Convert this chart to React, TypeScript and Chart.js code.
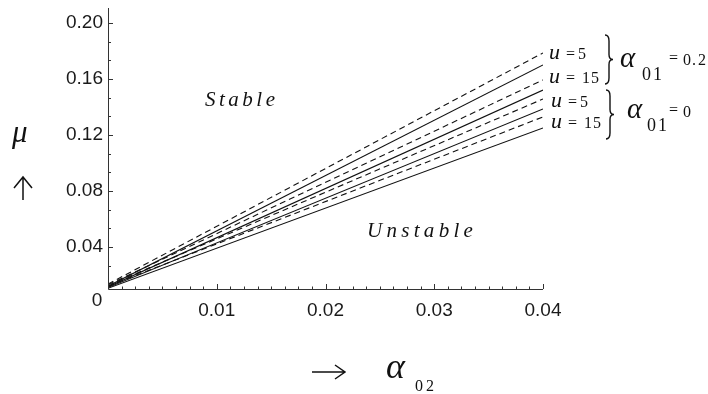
import React, { useEffect, useRef } from 'react';
import { Chart, registerables } from 'chart.js';
Chart.register(...registerables);

// alpha_02 values (x) at which the curves were read
const alpha02 = [0, 0.04];
// mu values (y) for each curve, top to bottom at alpha_02 = 0.04
const curve1Dashed = [0.0135, 0.1786];
const curve1Solid = [0.012, 0.17];
const curve2Dashed = [0.013, 0.1593];
const curve2Solid = [0.0115, 0.1521];
const curve3Dashed = [0.0125, 0.1457];
const curve3Solid = [0.011, 0.1386];
const curve4Dashed = [0.012, 0.1329];
const curve4Solid = [0.0105, 0.125];

const xTickLabels = ['0.01', '0.02', '0.03', '0.04'];
const yTickLabels = ['0.04', '0.08', '0.12', '0.16', '0.20'];

const curves = [
  { vals: curve1Dashed, dashed: true },
  { vals: curve1Solid, dashed: false },
  { vals: curve2Dashed, dashed: true },
  { vals: curve2Solid, dashed: false },
  { vals: curve3Dashed, dashed: true },
  { vals: curve3Solid, dashed: false },
  { vals: curve4Dashed, dashed: true },
  { vals: curve4Solid, dashed: false },
];

const SERIF = '"Liberation Serif", "Times New Roman", serif';
const SANS = '"Liberation Sans", Arial, sans-serif';

function brace(ctx: CanvasRenderingContext2D, x: number, top: number, bottom: number, w: number) {
  const h = bottom - top;
  const mid = (top + bottom) / 2;
  const xm = x + w * 0.5;
  ctx.beginPath();
  ctx.moveTo(x, top);
  ctx.quadraticCurveTo(xm, top, xm, top + h * 0.12);
  ctx.lineTo(xm, mid - h * 0.1);
  ctx.quadraticCurveTo(xm, mid, x + w, mid);
  ctx.quadraticCurveTo(xm, mid, xm, mid + h * 0.1);
  ctx.lineTo(xm, bottom - h * 0.12);
  ctx.quadraticCurveTo(xm, bottom, x, bottom);
  ctx.stroke();
}

const decorPlugin = {
  id: 'decor',
  afterDraw(chart: any) {
    const ctx: CanvasRenderingContext2D = chart.ctx;
    const xs = chart.scales.x;
    const ys = chart.scales.y;
    const ca = chart.chartArea;
    ctx.save();
    ctx.strokeStyle = '#333';
    ctx.fillStyle = '#1a1a1a';
    ctx.lineWidth = 1;
    // axes
    ctx.beginPath();
    ctx.moveTo(ca.left + 0.5, ca.top);
    ctx.lineTo(ca.left + 0.5, ca.bottom + 0.5);
    ctx.lineTo(ca.right, ca.bottom + 0.5);
    ctx.stroke();
    // y ticks
    const yStep = 0.04;
    for (let v = yStep / 3; v <= ys.max + 1e-9; v += yStep / 3) {
      if (v < ys.min) continue;
      const major = Math.abs(v / yStep - Math.round(v / yStep)) < 1e-6;
      const py = Math.round(ys.getPixelForValue(v)) + 0.5;
      ctx.beginPath();
      ctx.moveTo(ca.left, py);
      ctx.lineTo(ca.left + (major ? 5 : 3), py);
      ctx.stroke();
    }
    // x ticks
    const xStep = 0.01;
    for (let i = 1; i <= 32; i++) {
      const v = (i * xStep) / 8;
      const major = i % 8 === 0;
      const px = Math.round(xs.getPixelForValue(v)) + 0.5;
      ctx.beginPath();
      ctx.moveTo(px, ca.bottom);
      ctx.lineTo(px, ca.bottom - (major ? 5 : 2.5));
      ctx.stroke();
    }
    // tick labels
    ctx.font = `19px ${SANS}`;
    ctx.textAlign = 'right';
    ctx.textBaseline = 'middle';
    yTickLabels.forEach((t) => {
      ctx.fillText(t, ca.left - 5, ys.getPixelForValue(parseFloat(t)));
    });
    ctx.textAlign = 'center';
    xTickLabels.forEach((t) => {
      ctx.fillText(t, xs.getPixelForValue(parseFloat(t)), ca.bottom + 22);
    });
    ctx.fillText('0', 97, 301);

    // region labels
    ctx.fillStyle = '#111';
    ctx.textAlign = 'left';
    ctx.textBaseline = 'alphabetic';
    ctx.font = `italic 21px ${SERIF}`;
    (ctx as any).letterSpacing = '3.5px';
    ctx.fillText('Stable', 205, 106);
    (ctx as any).letterSpacing = '4.3px';
    ctx.fillText('Unstable', 367, 237);
    (ctx as any).letterSpacing = '0px';

    // y axis title
    ctx.font = `italic 31px ${SERIF}`;
    ctx.fillText('μ', 12, 142);
    ctx.lineWidth = 1.5;
    ctx.strokeStyle = '#111';
    ctx.beginPath();
    ctx.moveTo(23, 200);
    ctx.lineTo(23, 177);
    ctx.moveTo(14, 188);
    ctx.lineTo(23, 177);
    ctx.lineTo(32, 188);
    ctx.stroke();

    // x axis title
    ctx.beginPath();
    ctx.moveTo(312, 372);
    ctx.lineTo(345, 372);
    ctx.moveTo(335, 365);
    ctx.lineTo(345, 372);
    ctx.lineTo(335, 379);
    ctx.stroke();
    ctx.font = `italic 36px ${SERIF}`;
    ctx.fillText('α', 386, 378);
    ctx.font = `16px ${SERIF}`;
    ctx.fillText('0', 415, 391);
    ctx.fillText('2', 426, 391);

    // right annotations
    ctx.font = `italic 22px ${SERIF}`;
    ctx.fillText('u', 549, 59);
    ctx.fillText('u', 549, 83);
    ctx.fillText('u', 551, 107);
    ctx.fillText('u', 551, 128);
    ctx.font = `16px ${SERIF}`;
    ctx.fillText('=', 566, 59);
    ctx.fillText('5', 578, 59);
    ctx.fillText('=', 566, 83);
    ctx.fillText('1', 582, 83);
    ctx.fillText('5', 591, 83);
    ctx.fillText('=', 568, 107);
    ctx.fillText('5', 580, 107);
    ctx.fillText('=', 568, 128);
    ctx.fillText('1', 584, 128);
    ctx.fillText('5', 593, 128);

    ctx.lineWidth = 1.4;
    brace(ctx, 605, 35, 84, 8);
    brace(ctx, 606, 90, 139, 8);

    ctx.font = `italic 29px ${SERIF}`;
    ctx.fillText('α', 620, 67);
    ctx.fillText('α', 627, 118);
    ctx.font = `18px ${SERIF}`;
    ctx.fillText('0', 642, 80);
    ctx.fillText('1', 653, 80);
    ctx.fillText('0', 647, 131);
    ctx.fillText('1', 658, 131);
    ctx.font = `16px ${SERIF}`;
    ctx.fillText('=', 669, 63);
    ctx.fillText('0', 683, 65);
    ctx.fillText('.', 692, 65);
    ctx.fillText('2', 698, 65);
    ctx.fillText('=', 669, 115);
    ctx.fillText('0', 683, 117);
    ctx.restore();
  },
};

export default function App() {
  const ref = useRef<HTMLCanvasElement | null>(null);
  useEffect(() => {
    document.body.style.margin = '0';
    const canvas = ref.current;
    if (!canvas) return;
    const chart = new Chart(canvas, {
      type: 'line',
      data: {
        datasets: curves.map((c) => ({
          data: alpha02.map((x, i) => ({ x, y: c.vals[i] })),
          borderColor: '#111',
          borderWidth: 1.1,
          borderDash: c.dashed ? [6, 4] : [],
          pointRadius: 0,
          fill: false,
          tension: 0,
        })),
      },
      options: {
        animation: false,
        responsive: false,
        devicePixelRatio: 1,
        layout: { padding: { left: 0, top: 8, right: 165, bottom: 0 } },
        plugins: { legend: { display: false }, tooltip: { enabled: false } },
        scales: {
          x: {
            type: 'linear',
            min: 0,
            max: 0.04,
            grid: { display: false },
            border: { display: false },
            ticks: { display: false },
            afterFit: (s: any) => {
              s.height = 105;
            },
          },
          y: {
            type: 'linear',
            min: 0.01,
            max: 0.2107,
            grid: { display: false },
            border: { display: false },
            ticks: { display: false },
            afterFit: (s: any) => {
              s.width = 108;
            },
          },
        },
      },
      plugins: [decorPlugin],
    });
    return () => chart.destroy();
  }, []);
  return (
    <div style={{ position: 'relative', width: 708, height: 394, background: '#fff' }}>
      <canvas ref={ref} width={708} height={394} style={{ width: 708, height: 394, display: 'block' }} />
    </div>
  );
}
